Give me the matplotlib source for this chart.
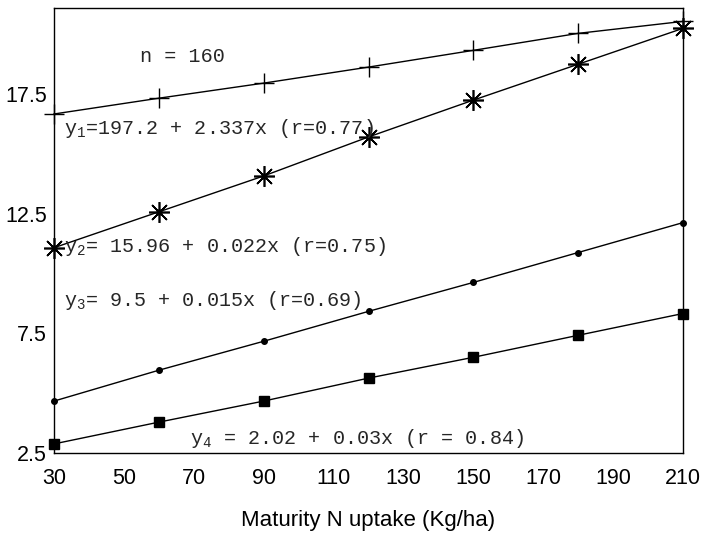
import matplotlib
matplotlib.use("Agg")
import matplotlib.pyplot as plt

plt.rcParams["mathtext.fontset"] = "custom"
plt.rcParams["mathtext.rm"] = "Liberation Mono"
plt.rcParams["mathtext.it"] = "Liberation Mono"

# N uptake at maturity (kg/ha)
n_uptake = [30, 60, 90, 120, 150, 180, 210]

# fitted responses
y1_vals = [16.67, 17.33, 17.96, 18.63, 19.33, 20.04, 20.54]
y2_vals = [11.08, 12.58, 14.08, 15.71, 17.25, 18.75, 20.25]
y3_vals = [4.67, 5.96, 7.17, 8.42, 9.63, 10.88, 12.13]
y4_vals = [2.88, 3.79, 4.67, 5.63, 6.50, 7.42, 8.33]

x_ticks = [30, 50, 70, 90, 110, 130, 150, 170, 190, 210]
y_ticks = [2.5, 7.5, 12.5, 17.5]

eq_labels = [
    "y$_1$=197.2 + 2.337x (r=0.77)",
    "y$_2$= 15.96 + 0.022x (r=0.75)",
    "y$_3$= 9.5 + 0.015x (r=0.69)",
    "y$_4$ = 2.02 + 0.03x (r = 0.84)",
]
n_label = "n = 160"
x_title = "Maturity N uptake (Kg/ha)"

W, H = 708, 534
fig = plt.figure(figsize=(W / 100, H / 100), dpi=100)
ax = fig.add_axes([54 / W, 1 - 453 / H, 629 / W, 445 / H])

lw = 1.0
ax.plot(n_uptake, y1_vals, color="black", lw=lw, marker="+", ms=14, mew=1.0, clip_on=False)
ax.plot(n_uptake, y2_vals, color="black", lw=lw, marker=(8, 2, 0), ms=15, mew=1.2, clip_on=False)
ax.plot(n_uptake, y2_vals, color="black", lw=0, marker="o", ms=3.5, clip_on=False)
ax.plot(n_uptake, y3_vals, color="black", lw=lw, marker="o", ms=4, clip_on=False)
ax.plot(n_uptake, y4_vals, color="black", lw=lw, marker="s", ms=7, clip_on=False)

ax.set_xlim(30, 210)
ax.set_ylim(2.5, 21.1)
ax.set_xticks(x_ticks)
ax.set_yticks(y_ticks)
ax.set_yticklabels([f"{v}" for v in y_ticks])
ax.tick_params(length=0, labelsize=15.5)
ax.tick_params(axis="x", pad=11)
ax.tick_params(axis="y", pad=5)
for lab in ax.get_xticklabels() + ax.get_yticklabels():
    lab.set_family("Liberation Sans")
for s in ax.spines.values():
    s.set_linewidth(1.0)

ax.set_xlabel(x_title, fontsize=16, family="Liberation Sans", labelpad=15)


def px(x, y):
    return x / W, 1 - y / H


mono = dict(family="Liberation Mono", fontsize=14.5, color="#262626", va="center", ha="left")
fig.text(*px(140, 57), n_label, **mono)
fig.text(*px(64, 128), eq_labels[0], **mono)
fig.text(*px(64, 247), eq_labels[1], **mono)
fig.text(*px(64, 300), eq_labels[2], **mono)
fig.text(*px(190, 438), eq_labels[3], **mono)

fig.savefig("out.png", dpi=100)
